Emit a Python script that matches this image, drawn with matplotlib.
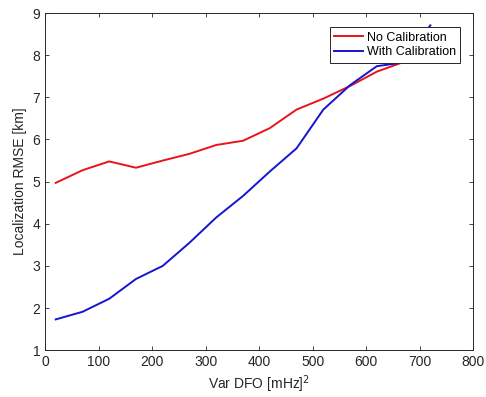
import matplotlib
matplotlib.use('Agg')
from matplotlib import pyplot as plt

plt.rcParams['font.family'] = ['Liberation Sans', 'DejaVu Sans']

var_dfo = [20, 70, 120, 170, 220, 270, 320, 370, 420, 470, 520, 570, 620, 670, 720]
rmse_no_cal = [4.97, 5.27, 5.48, 5.33, 5.50, 5.66, 5.87, 5.97, 6.27, 6.71, 6.97, 7.27, 7.61, 7.84, 8.05]
rmse_with_cal = [1.73, 1.91, 2.22, 2.69, 3.00, 3.55, 4.15, 4.66, 5.24, 5.79, 6.71, 7.29, 7.74, 7.83, 8.71]

fig = plt.figure(figsize=(4.86, 3.97), dpi=100)
ax = fig.add_axes([0.0926, 0.118, 0.881, 0.849])

ax.plot(var_dfo, rmse_no_cal, color='#e8141a', lw=1.4, label='No Calibration')
ax.plot(var_dfo, rmse_with_cal, color='#1414d2', lw=1.4, label='With Calibration')

ax.set_xlim(0, 800)
ax.set_ylim(1, 9)
ax.set_xticks(range(0, 801, 100))
ax.set_yticks(range(1, 10))
ax.tick_params(direction='in', top=True, right=True, labelsize=10,
               colors='#262626', length=3, width=0.6)
for s in ax.spines.values():
    s.set_color('#262626')
    s.set_linewidth(0.7)

ax.set_xlabel('Var DFO [mHz]$^2$', fontsize=10, color='#262626', labelpad=3)
ax.set_ylabel('Localization RMSE [km]', fontsize=10, color='#262626', labelpad=4)

leg = ax.legend(loc='upper right', bbox_to_anchor=(0.970, 0.958), fontsize=9,
                frameon=True, fancybox=False, framealpha=1, edgecolor='#262626',
                handlelength=2.3, handletextpad=0.3, borderpad=0.35,
                labelspacing=0.2, borderaxespad=0)
leg.get_frame().set_linewidth(0.7)

fig.savefig('out.png', dpi=100)
